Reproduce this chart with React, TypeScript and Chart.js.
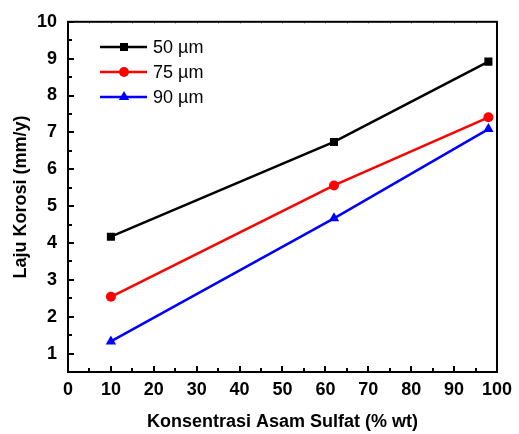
import React, { useEffect, useRef } from "react";
import { Chart, registerables } from "chart.js";

Chart.register(...registerables);

const concentrations = [10, 62, 98];
const rate50 = [4.17, 6.74, 8.92];
const rate75 = [2.54, 5.56, 7.41];
const rate90 = [1.33, 4.67, 7.09];
const seriesLabels = ["50 \u00b5m", "75 \u00b5m", "90 \u00b5m"];
const xTicks = [0, 10, 20, 30, 40, 50, 60, 70, 80, 90, 100];
const yTicks = [1, 2, 3, 4, 5, 6, 7, 8, 9, 10];
const xMinor = [5, 15, 25, 35, 45, 55, 65, 75, 85, 95];
const yMinor = [0.5, 1.5, 2.5, 3.5, 4.5, 5.5, 6.5, 7.5, 8.5, 9.5];

const FONT = "'Liberation Sans', Arial, Helvetica, sans-serif";
const LEGEND_Y0 = 47;
const LEGEND_DY = 25;

function drawMarker(ctx: CanvasRenderingContext2D, style: string, r: number, x: number, y: number) {
  ctx.beginPath();
  if (style === "rect") {
    const s = r * Math.SQRT1_2;
    ctx.rect(x - s, y - s, 2 * s, 2 * s);
  } else if (style === "circle") {
    ctx.arc(x, y, r, 0, Math.PI * 2);
  } else {
    ctx.moveTo(x, y - r);
    ctx.lineTo(x + r * Math.sin(Math.PI / 3), y + r * 0.5);
    ctx.lineTo(x - r * Math.sin(Math.PI / 3), y + r * 0.5);
    ctx.closePath();
  }
  ctx.fill();
}

const framePlugin = {
  id: "frameTicks",
  afterDraw(chart: any) {
    const { ctx, chartArea: a, scales } = chart;
    const xs = scales.x, ys = scales.y;
    ctx.save();
    ctx.strokeStyle = "#000";
    ctx.lineWidth = 2;
    ctx.beginPath();
    xTicks.forEach((v) => {
      const px = Math.round(xs.getPixelForValue(v));
      ctx.moveTo(px, a.bottom);
      ctx.lineTo(px, a.bottom - 6);
    });
    xMinor.forEach((v) => {
      const px = Math.round(xs.getPixelForValue(v));
      ctx.moveTo(px, a.bottom);
      ctx.lineTo(px, a.bottom - 4);
    });
    yTicks.forEach((v) => {
      const py = Math.round(ys.getPixelForValue(v));
      ctx.moveTo(a.left, py);
      ctx.lineTo(a.left + 6, py);
    });
    yMinor.forEach((v) => {
      const py = Math.round(ys.getPixelForValue(v));
      ctx.moveTo(a.left, py);
      ctx.lineTo(a.left + 4, py);
    });
    ctx.stroke();
    ctx.strokeStyle = "#aaa";
    ctx.lineWidth = 1;
    ctx.beginPath();
    [...xTicks, ...xMinor].forEach((v) => {
      const px = Math.round(xs.getPixelForValue(v)) + 0.5;
      ctx.moveTo(px, a.top);
      ctx.lineTo(px, a.top + 2);
    });
    ctx.stroke();
    ctx.strokeStyle = "#000";
    ctx.lineWidth = 2;
    ctx.strokeRect(a.left, a.top, a.right - a.left, a.bottom - a.top);

    // legend
    ctx.font = `18px ${FONT}`;
    ctx.textBaseline = "middle";
    ctx.textAlign = "left";
    chart.data.datasets.forEach((ds: any, i: number) => {
      const y = LEGEND_Y0 + i * LEGEND_DY;
      ctx.strokeStyle = ds.borderColor;
      ctx.lineWidth = 2.5;
      ctx.beginPath();
      ctx.moveTo(100, y);
      ctx.lineTo(147, y);
      ctx.stroke();
      ctx.fillStyle = ds.borderColor;
      drawMarker(ctx, ds.pointStyle, ds.pointRadius, 124, y);
      ctx.fillStyle = "#000";
      ctx.fillText(ds.label, 153, y + 1);
    });
    ctx.restore();
  },
};

export default function App() {
  const ref = useRef<HTMLCanvasElement>(null);
  useEffect(() => {
    document.body.style.margin = "0";
    const colors = ["#000000", "#ff0000", "#0000ff"];
    const styles = ["rect", "circle", "triangle"];
    const radii = [5.7, 5, 6];
    const values = [rate50, rate75, rate90];
    const chart = new Chart(ref.current!, {
      type: "line",
      data: {
        datasets: values.map((vals, i) => ({
          label: seriesLabels[i],
          data: concentrations.map((c, j) => ({ x: c, y: vals[j] })),
          borderColor: colors[i],
          backgroundColor: colors[i],
          borderWidth: 2.5,
          pointStyle: styles[i],
          pointRadius: radii[i],
          pointBorderWidth: 0,
          pointBackgroundColor: colors[i],
          tension: 0,
        })),
      },
      options: {
        animation: false,
        responsive: false,
        layout: { padding: { top: 18, right: 20, left: 0, bottom: 0 } },
        plugins: { legend: { display: false }, tooltip: { enabled: false } },
        scales: {
          x: {
            type: "linear",
            min: 0,
            max: 100,
            grid: { display: false, drawTicks: false },
            border: { display: false },
            afterBuildTicks: (s: any) => { s.ticks = xTicks.map((v) => ({ value: v })); },
            afterFit: (s: any) => { s.height = 62; },
            ticks: {
              padding: 7,
              color: "#000",
              maxRotation: 0,
              autoSkip: false,
              font: { family: FONT, size: 18, weight: "bold" },
            },
            title: {
              display: true,
              text: "Konsentrasi Asam Sulfat (% wt)",
              color: "#000",
              font: { family: FONT, size: 18, weight: "bold" },
              padding: { top: 0, bottom: 1 },
            },
          },
          y: {
            type: "linear",
            min: 0.5,
            max: 10,
            grid: { display: false, drawTicks: false },
            border: { display: false },
            afterBuildTicks: (s: any) => { s.ticks = yTicks.map((v) => ({ value: v })); },
            afterFit: (s: any) => { s.width = 68; },
            ticks: {
              padding: 11,
              color: "#000",
              autoSkip: false,
              font: { family: FONT, size: 18, weight: "bold" },
            },
            title: {
              display: true,
              text: "Laju Korosi (mm/y)",
              color: "#000",
              font: { family: FONT, size: 18, weight: "bold" },
              padding: { top: 10, bottom: 0 },
            },
          },
        },
      },
      plugins: [framePlugin],
    } as any);
    return () => chart.destroy();
  }, []);
  return <canvas ref={ref} width={519} height={434} style={{ display: "block" }} />;
}
